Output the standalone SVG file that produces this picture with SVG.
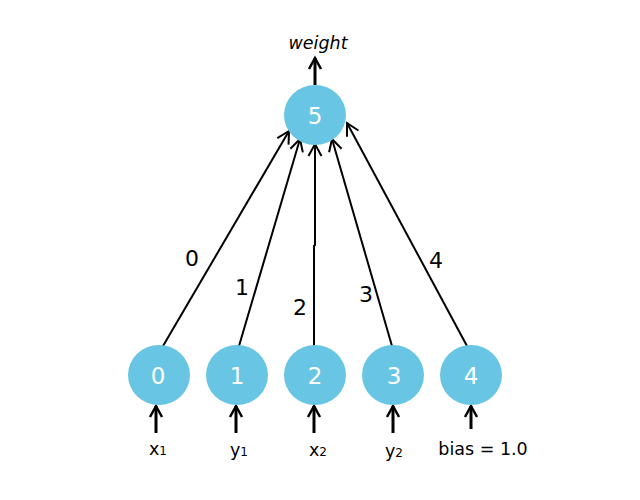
<svg xmlns="http://www.w3.org/2000/svg" width="640" height="500" viewBox="0 0 640 500">
<style>
.node ellipse{fill:#68c5e4}
.node text{fill:#fff;font-family:"DejaVu Sans",sans-serif;font-size:23px;text-anchor:middle}
.edge{stroke:#000;stroke-width:2;fill:none;marker-end:url(#ah)}
.io{stroke:#000;stroke-width:3;fill:none;marker-end:url(#ah3)}
.elab{font-family:"DejaVu Sans",sans-serif;font-size:22px;fill:#000;text-anchor:middle}
.lab{font-family:"DejaVu Sans",sans-serif;font-size:17.5px;fill:#000;text-anchor:middle}
.sub{font-size:12px}
</style>
<defs>
<marker id="ah" markerUnits="userSpaceOnUse" markerWidth="20" markerHeight="20" refX="0" refY="0" viewBox="-14 -10 20 20" orient="auto" overflow="visible">
<path d="M-12,-6.5 L0,0 L-12,6.5" fill="none" stroke="#000" stroke-width="2"/>
</marker>
<marker id="ah3" markerUnits="userSpaceOnUse" markerWidth="20" markerHeight="20" refX="0" refY="0" viewBox="-14 -10 20 20" orient="auto" overflow="visible">
<path d="M-11,-6 L0,0 L-11,6" fill="none" stroke="#000" stroke-width="2.5"/>
</marker>
</defs>
<rect width="640" height="500" fill="#fff"/>
<g id="connectors">
<line class="edge" x1="163" y1="346" x2="289" y2="131"/>
<line class="edge" x1="239" y1="346" x2="300" y2="139"/>
<polyline class="edge" points="314,346 314,246 315,245 315,144"/>
<line class="edge" x1="392" y1="346" x2="332" y2="139"/>
<line class="edge" x1="467" y1="346" x2="347" y2="123"/>
<line class="io" x1="315" y1="85" x2="315" y2="58"/>
<line class="io" x1="156" y1="433" x2="156" y2="406"/>
<line class="io" x1="236" y1="433" x2="236" y2="406"/>
<line class="io" x1="314" y1="433" x2="314" y2="406"/>
<line class="io" x1="393" y1="433" x2="393" y2="406"/>
<line class="io" x1="471" y1="429" x2="471" y2="406"/>
</g>
<g id="edge-labels">
<text class="elab" x="192" y="266">0</text>
<text class="elab" x="242" y="295">1</text>
<text class="elab" x="300" y="315">2</text>
<text class="elab" x="366" y="302">3</text>
<text class="elab" x="436" y="268">4</text>
</g>
<g id="n0" class="node"><ellipse cx="159" cy="375" rx="31" ry="30"/><text x="158" y="384">0</text></g>
<g id="n1" class="node"><ellipse cx="237" cy="375" rx="31" ry="30"/><text x="237" y="384">1</text></g>
<g id="n2" class="node"><ellipse cx="315" cy="375" rx="31" ry="30"/><text x="315" y="384">2</text></g>
<g id="n3" class="node"><ellipse cx="393" cy="375" rx="31" ry="30"/><text x="394" y="384">3</text></g>
<g id="n4" class="node"><ellipse cx="471" cy="375" rx="31" ry="30"/><text x="471" y="384">4</text></g>
<g id="n5" class="node"><ellipse cx="315" cy="115" rx="31" ry="30"/><text x="315" y="124">5</text></g>
<g id="labels">
<text class="lab" x="318" y="49" font-style="italic">weight</text>
<text class="lab" x="158" y="455">x<tspan class="sub">1</tspan></text>
<text class="lab" x="239" y="456">y<tspan class="sub">1</tspan></text>
<text class="lab" x="318" y="456">x<tspan class="sub">2</tspan></text>
<text class="lab" x="394" y="457">y<tspan class="sub">2</tspan></text>
<text class="lab" x="483" y="455">bias = 1.0</text>
</g>
</svg>
